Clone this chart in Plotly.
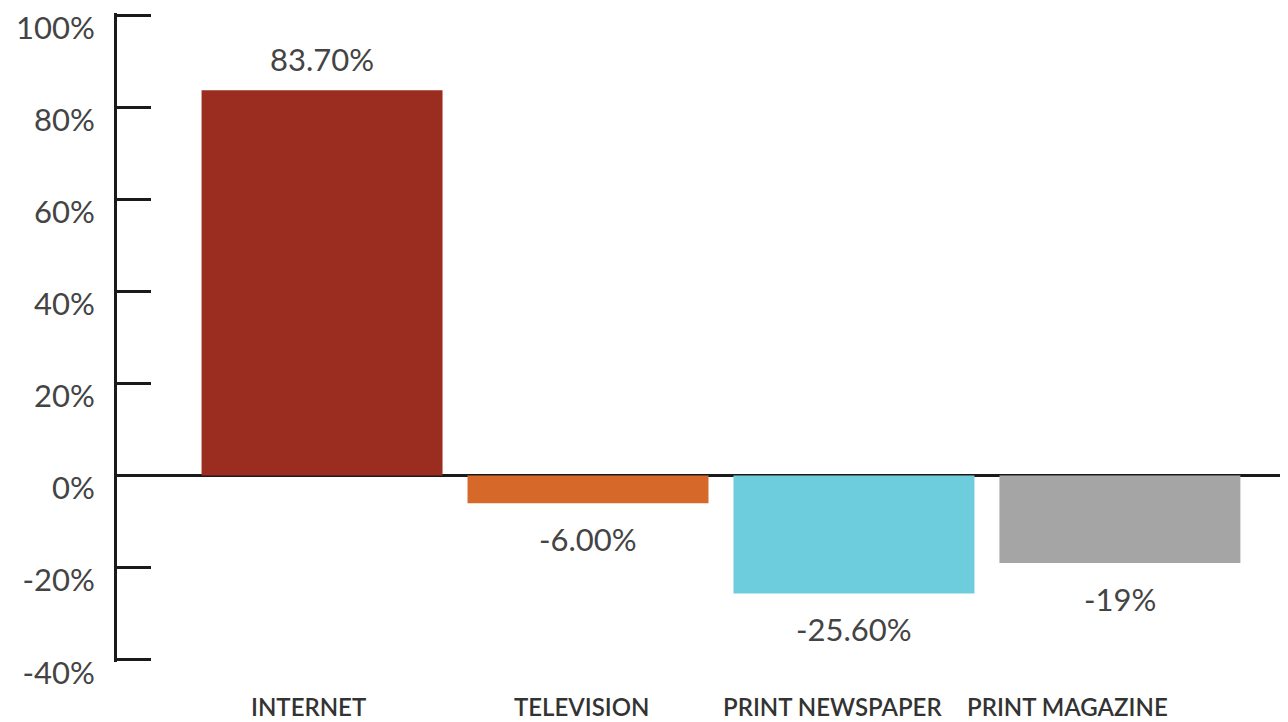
import plotly.graph_objects as go

categories = ["INTERNET", "TELEVISION", "PRINT NEWSPAPER", "PRINT MAGAZINE"]
values = [83.7, -6.0, -25.6, -19.0]
value_labels = ["83.70%", "-6.00%", "-25.60%", "-19%"]
colors = ["#9B2D20", "#D6692A", "#6ECDDD", "#A5A5A5"]
tick_vals = [-40, -20, 0, 20, 40, 60, 80, 100]
tick_text = ["-40%", "-20%", "0%", "20%", "40%", "60%", "80%", "100%"]
label_shift = [-14, -7, -21, -52]

fig = go.Figure(go.Bar(
    x=list(range(len(categories))),
    y=values,
    marker=dict(color=colors, line=dict(width=0)),
    width=0.906,
    cliponaxis=False,
))

for i, (v, t) in enumerate(zip(values, value_labels)):
    fig.add_annotation(x=i, y=v, xref="x", yref="y", text=t, showarrow=False,
                       yanchor="middle", yshift=31 if v >= 0 else -36,
                       font=dict(family="Lato", size=31, color="#444444"))

for i, c in enumerate(categories):
    fig.add_annotation(x=i, y=-0.068, xref="x", yref="paper", text=c,
                       showarrow=False, xshift=label_shift[i], yanchor="middle",
                       font=dict(family="Lato", size=24, color="#333333", weight=600))

fig.update_layout(
    width=1280, height=714,
    margin=dict(l=109, r=0, t=5, b=60),
    plot_bgcolor="white", paper_bgcolor="white",
    showlegend=False,
    xaxis=dict(range=[-0.771, 3.632], showticklabels=False, showgrid=False,
               zeroline=False, showline=False, fixedrange=True),
    yaxis=dict(range=[-40.5, 100.5], tickvals=tick_vals, ticktext=tick_text,
               showgrid=False, showline=True, linecolor="#1a1a1a", linewidth=3,
               ticks="inside", ticklen=34, tickwidth=3, tickcolor="#1a1a1a",
               zeroline=True, zerolinecolor="#1a1a1a", zerolinewidth=3,
               tickfont=dict(family="Lato", size=31, color="#444444"),
               ticklabelstandoff=13, ticklabelshift=13),
)

fig.write_html("out.html")
